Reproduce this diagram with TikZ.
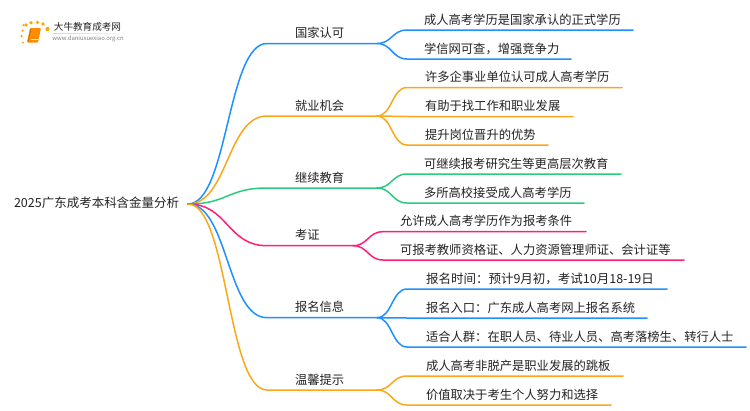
\documentclass[tikz,border=0pt]{standalone}
\usepackage{fontspec}
\setmainfont{Noto Sans CJK SC}
\usetikzlibrary{calc}
\definecolor{cblue}{HTML}{1E90FF}
\definecolor{corange}{HTML}{F9A81A}
\definecolor{cgreen}{HTML}{2BCB7F}
\definecolor{cpink}{HTML}{FF1F78}
\definecolor{ink}{HTML}{222222}
\tikzset{
  x=1pt,y=-1pt,
  lab/.style={anchor=south west,inner sep=0pt,outer sep=0pt,align=left,text=ink,font=\fontsize{12.3pt}{14pt}\selectfont,text height=12pt,text depth=6pt},
  conn/.style={line width=1.5pt,line cap=round,line join=round},
  dot/.style={circle,fill=#1,draw=none,inner sep=0pt,minimum size=3.6pt},
}
\newcommand{\lf}[6]{% name, x, y, len, inset, text
  \node[lab,text width=#4pt] (#1) at (#2,#3) {\hspace*{#5pt}#6};}
\newcommand{\bigc}[2]{% color, name
  \draw[conn,#1] (root.east) .. controls +(40,0) and +(-40,0) .. (#2.south west) -- (#2.south east);}
\newcommand{\smc}[3]{% color, parent, child
  \draw[conn,#1] (#2.south east) .. controls +(15,0) and +(-15,0) .. (#3.south west) -- (#3.south east);}
\begin{document}
\begin{tikzpicture}
\useasboundingbox (0,0) rectangle (750,410);
% logo
\shade[left color=gray!35,right color=white] (53,33) rectangle (133,33.6);
\node[dot=orange!70!yellow,minimum size=2.5pt] (d1) at (23.5,25) {};
\node[dot=orange!70!yellow,minimum size=2.5pt] (d2) at (22.5,30.5) {};
\node[dot=orange!70!yellow,minimum size=2.5pt] (d3) at (21.5,36) {};
\node[dot=orange!70!yellow,minimum size=2pt] (d4) at (23,42.5) {};
\node[dot=orange!70!yellow] (d5) at (26,25) {};
\node[dot=orange!70!yellow] (d6) at (31,22.7) {};
\node[dot=orange!70!yellow] (d7) at (37.5,22.3) {};
\node[dot=orange!70!yellow] (d8) at (43,24) {};
\node[dot=orange!70!yellow,minimum size=4.2pt] (d9) at (47.5,29) {};
\fill[orange!90!yellow,rounded corners=1pt] (30,28) -- (41,28) -- (38,42.5) -- (27,42.5) -- cycle;
\draw[white!85!orange,line width=.5pt] (30.5,39.5) -- (38.5,39.5);
\draw[orange!65!black,line width=.4pt] (31,29) -- (28,41.5);
\node[inner sep=0pt,text=ink,font=\fontsize{9.6pt}{11pt}\selectfont] (logo) at (87.5,27) {大牛教育成考网};
\node[inner sep=0pt,text=gray,font=\fontsize{5.9pt}{7pt}\selectfont] (url) at (88,39) {www.daniuxuexiao.org.cn};
% root
\node[lab,anchor=west,text width=174pt,font=\fontsize{12.5pt}{14pt}\selectfont] (root) at (14,204) {2025广东成考本科含金量分析};
% branches
\lf{b1}{267}{43.5}{110}{28}{国家认可}
\lf{b2}{267}{116}{110}{28}{就业机会}
\lf{b3}{267}{188}{110}{28}{继续教育}
\lf{b4}{267}{245.7}{86}{28}{考证}
\lf{b5}{267}{317.7}{110}{28}{报名信息}
\lf{b6}{267}{390}{110}{28}{温馨提示}
% leaves
\lf{a1}{407}{30}{226}{17}{成人高考学历是国家承认的正式学历}
\lf{a2}{407}{59}{164}{17}{学信网可查，增强竞争力}
\lf{c1}{407}{87.5}{215}{18}{许多企事业单位认可成人高考学历}
\lf{c2}{407}{116.5}{166}{18}{有助于找工作和职业发展}
\lf{c3}{407}{145}{141}{18}{提升岗位晋升的优势}
\lf{e1}{407}{174}{214}{17}{可继续报考研究生等更高层次教育}
\lf{e2}{407}{203}{177}{17}{多所高校接受成人高考学历}
\lf{f1}{383}{231.7}{203}{17}{允许成人高考学历作为报考条件}
\lf{f2}{383}{260}{301}{17}{可报考教师资格证、人力资源管理师证、会计证等}
\lf{g1}{407}{289}{260}{19}{\fontsize{12.5pt}{14pt}\selectfont 报名时间：预计9月初，考试10月18-19日}
\lf{g2}{407}{318}{240}{19}{报名入口：广东成人高考网上报名系统}
\lf{g3}{407}{347}{339}{19}{适合人群：在职人员、待业人员、高考落榜生、转行人士}
\lf{h1}{407}{376}{216}{19}{成人高考非脱产是职业发展的跳板}
\lf{h2}{407}{405}{204}{19}{价值取决于考生个人努力和选择}
% connectors
\bigc{cblue}{b1}
\bigc{corange}{b2}
\bigc{cgreen}{b3}
\bigc{cpink}{b4}
\bigc{cblue}{b5}
\bigc{corange}{b6}
\smc{cblue}{b1}{a1}
\smc{cblue}{b1}{a2}
\smc{corange}{b2}{c1}
\smc{corange}{b2}{c2}
\smc{corange}{b2}{c3}
\smc{cgreen}{b3}{e1}
\smc{cgreen}{b3}{e2}
\smc{cpink}{b4}{f1}
\smc{cpink}{b4}{f2}
\smc{cblue}{b5}{g1}
\smc{cblue}{b5}{g2}
\smc{cblue}{b5}{g3}
\smc{corange}{b6}{h1}
\smc{corange}{b6}{h2}
\end{tikzpicture}
\end{document}
